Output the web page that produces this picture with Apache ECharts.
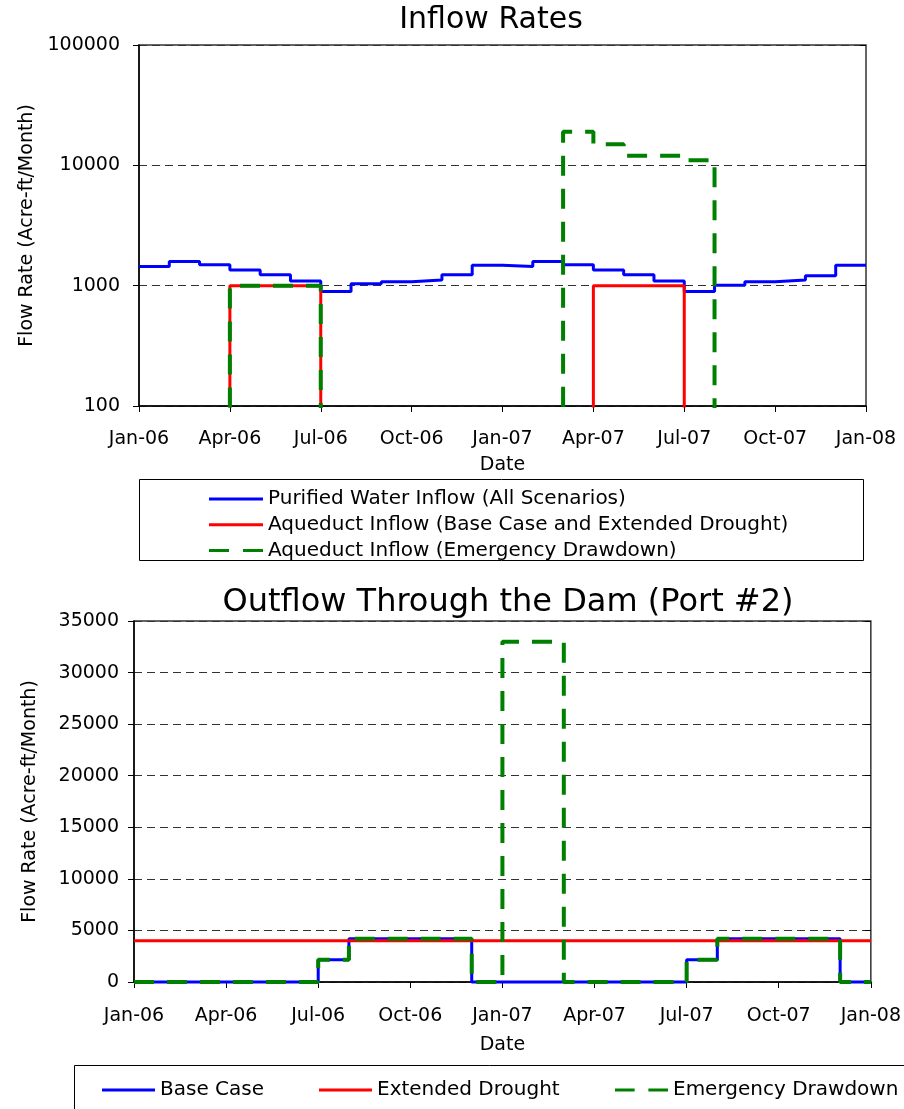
<!DOCTYPE html>
<html>
<head>
<meta charset="utf-8">
<script src="https://cdn.jsdelivr.net/npm/echarts@6/dist/echarts.min.js"></script>
<style>
  html, body { margin: 0; padding: 0; background: #fff; }
  #chart { width: 904px; height: 1109px; }
</style>
</head>
<body>
<div id="chart"></div>
<script>
// Month ticks every quarter, Jan-06 .. Jan-08 (x is months since Jan 2006)
const quarterTickLabels = ['Jan-06', 'Apr-06', 'Jul-06', 'Oct-06', 'Jan-07', 'Apr-07', 'Jul-07', 'Oct-07', 'Jan-08'];

// Inflow rates, acre-ft/month, one value per month Jan-06 .. Dec-07
const purifiedInflow = [1440, 1590, 1490, 1350, 1230, 1095, 895, 1035, 1080, 1115, 1230, 1480,
                        1440, 1590, 1490, 1350, 1230, 1095, 895, 1010, 1080, 1115, 1210, 1480];
const aqueductBaseInflow = [0, 0, 0, 1000, 1000, 1000, 0, 0, 0, 0, 0, 0,
                            0, 0, 0, 1000, 1000, 1000, 0, 0, 0, 0, 0, 0];
const aqueductEmergencyInflow = [0, 0, 0, 1000, 1000, 1000, 0, 0, 0, 0, 0, 0,
                                 0, 0, 19000, 15000, 12000, 12000, 11000, 0, 0, 0, 0, 0];
const inflowLogTicks = [100, 1000, 10000, 100000];

// Outflow through the dam (Port #2), acre-ft/month
const outflowBaseCase = [0, 0, 0, 0, 0, 0, 2150, 4200, 4200, 4200, 4200, 0,
                         0, 0, 0, 0, 0, 0, 2150, 4200, 4200, 4200, 4200, 0];
const outflowExtendedDrought = [4000, 4000, 4000, 4000, 4000, 4000, 4000, 4000, 4000, 4000, 4000, 4000,
                                4000, 4000, 4000, 4000, 4000, 4000, 4000, 4000, 4000, 4000, 4000, 4000];
const outflowEmergency = [0, 0, 0, 0, 0, 0, 2150, 4200, 4200, 4200, 4200, 0,
                          33000, 33000, 0, 0, 0, 0, 2150, 4200, 4200, 4200, 4200, 0];
const outflowTicks = [0, 35000, 5000]; // min, max, interval

const FONT = 'DejaVu Sans';
const BLUE = '#0000ff', RED = '#ff0000', GREEN = '#008000';

// Legend keys: a solid bar and a two-dash bar
const SOLID_KEY = 'path://M0 0H54V3H0Z';
const DASHED_KEY = 'path://M0 0H20V3H0Z M34 0H54V3H34Z';

// Monthly step data: value i holds from month i to month i+1
function monthlySteps(values, floor) {
  const pts = values.map((v, i) => [i, floor != null && v <= 0 ? floor : v]);
  pts.push([values.length, pts[pts.length - 1][1]]);
  return pts;
}
// zero flow has no place on a log scale: send it below the axis so it is clipped
const LOG_FLOOR = 1;

function monthAxis(gridIndex) {
  return {
    type: 'value', gridIndex, min: 0, max: 24, interval: 3,
    name: 'Date', nameLocation: 'middle', nameGap: gridIndex === 0 ? 50 : 54,
    nameTextStyle: { fontFamily: FONT, fontSize: 19, color: '#000' },
    axisLine: { lineStyle: { color: '#000', width: 1.5 } },
    axisTick: { show: true, inside: false, length: 6, lineStyle: { color: '#000' } },
    axisLabel: {
      fontFamily: FONT, fontSize: 19, color: '#000', margin: gridIndex === 0 ? 24 : 25,
      showMinLabel: true, showMaxLabel: true, hideOverlap: false,
      formatter: v => quarterTickLabels[Math.round(v / 3)]
    },
    splitLine: { show: false }
  };
}

const gridLine = { show: true, lineStyle: { color: '#333', width: 1, type: [8, 5] } };
const legendText = { fontFamily: FONT, fontSize: 20, color: '#000', lineHeight: 20 };

function bottomLegend(left, name, icon) {
  return {
    orient: 'horizontal', left, top: 1080, padding: 0, itemWidth: 53, itemHeight: 3,
    textStyle: legendText, data: [{ name, icon }]
  };
}

const option = {
  animation: false,
  backgroundColor: '#fff',
  textStyle: { fontFamily: FONT },
  grid: [
    { left: 139, top: 45, width: 727, height: 361, show: true, borderColor: '#333', borderWidth: 1.5, backgroundColor: 'transparent' },
    { left: 134, top: 621, width: 740, height: 361, show: true, borderColor: '#333', borderWidth: 1.5, backgroundColor: 'transparent' }
  ],
  graphic: [
    { type: 'text', x: 491, y: 20, style: { text: 'Inflow Rates', font: '30px "DejaVu Sans"', fill: '#000', textAlign: 'center', textVerticalAlign: 'middle' } },
    { type: 'text', x: 508, y: 603, style: { text: 'Outflow Through the Dam (Port #2)', font: '32px "DejaVu Sans"', fill: '#000', textAlign: 'center', textVerticalAlign: 'middle' } },
    { type: 'rect', shape: { x: 139.5, y: 479.5, width: 724, height: 81 }, style: { fill: 'none', stroke: '#000', lineWidth: 1 }, z: 0 },
    { type: 'rect', shape: { x: 74.5, y: 1065.5, width: 840, height: 60 }, style: { fill: 'none', stroke: '#000', lineWidth: 1 }, z: 0 }
  ],
  legend: [
    {
      orient: 'vertical', left: 209, top: 489, padding: 0, itemWidth: 54, itemHeight: 3, itemGap: 5.7,
      textStyle: legendText,
      data: [
        { name: 'Purified Water Inflow (All Scenarios)', icon: SOLID_KEY },
        { name: 'Aqueduct Inflow (Base Case and Extended Drought)', icon: SOLID_KEY },
        { name: 'Aqueduct Inflow (Emergency Drawdown)', icon: DASHED_KEY }
      ]
    },
    bottomLegend(102, 'Base Case', SOLID_KEY),
    bottomLegend(319, 'Extended Drought', SOLID_KEY),
    bottomLegend(615, 'Emergency Drawdown', DASHED_KEY)
  ],
  xAxis: [monthAxis(0), monthAxis(1)],
  yAxis: [
    {
      type: 'log', logBase: 10, gridIndex: 0, min: inflowLogTicks[0], max: inflowLogTicks[inflowLogTicks.length - 1],
      name: 'Flow Rate (Acre-ft/Month)', nameLocation: 'middle', nameGap: 102,
      nameTextStyle: { fontFamily: FONT, fontSize: 19, color: '#000' },
      axisLine: { show: true, lineStyle: { color: '#000', width: 1.5 } },
      axisTick: { show: true, length: 6, lineStyle: { color: '#000' } },
      axisLabel: { fontFamily: FONT, fontSize: 19, color: '#000', margin: 19, formatter: v => String(Math.round(v)) },
      splitLine: gridLine
    },
    {
      type: 'log', logBase: 10, gridIndex: 0, min: inflowLogTicks[0], max: inflowLogTicks[inflowLogTicks.length - 1],
      axisLine: { show: false }, axisLabel: { show: false }, splitLine: { show: false },
      axisTick: { show: true, inside: true, length: 6, lineStyle: { color: '#000' } }
    },
    {
      type: 'value', gridIndex: 1, min: outflowTicks[0], max: outflowTicks[1], interval: outflowTicks[2],
      name: 'Flow Rate (Acre-ft/Month)', nameLocation: 'middle', nameGap: 94,
      nameTextStyle: { fontFamily: FONT, fontSize: 19, color: '#000' },
      axisLine: { show: true, lineStyle: { color: '#000', width: 1.5 } },
      axisTick: { show: true, length: 6, lineStyle: { color: '#000' } },
      axisLabel: { fontFamily: FONT, fontSize: 19, color: '#000', margin: 15, formatter: v => String(v) },
      splitLine: gridLine
    },
    {
      type: 'value', gridIndex: 1, min: outflowTicks[0], max: outflowTicks[1], interval: outflowTicks[2],
      axisLine: { show: false }, axisLabel: { show: false }, splitLine: { show: false },
      axisTick: { show: true, inside: true, length: 6, lineStyle: { color: '#000' } }
    }
  ],
  series: [
    {
      name: 'Purified Water Inflow (All Scenarios)', type: 'line', step: 'end', xAxisIndex: 0, yAxisIndex: 0,
      data: monthlySteps(purifiedInflow), symbol: 'none', clip: true,
      lineStyle: { color: BLUE, width: 3 }, itemStyle: { color: BLUE }
    },
    {
      name: 'Aqueduct Inflow (Base Case and Extended Drought)', type: 'line', step: 'end', xAxisIndex: 0, yAxisIndex: 0,
      data: monthlySteps(aqueductBaseInflow, LOG_FLOOR), symbol: 'none', clip: true,
      lineStyle: { color: RED, width: 3 }, itemStyle: { color: RED }
    },
    {
      name: 'Aqueduct Inflow (Emergency Drawdown)', type: 'line', step: 'end', xAxisIndex: 0, yAxisIndex: 0,
      data: monthlySteps(aqueductEmergencyInflow, LOG_FLOOR), symbol: 'none', clip: true,
      lineStyle: { color: GREEN, width: 4, type: [20, 13] }, itemStyle: { color: GREEN }
    },
    {
      name: 'Base Case', type: 'line', step: 'end', xAxisIndex: 1, yAxisIndex: 2,
      data: monthlySteps(outflowBaseCase), symbol: 'none', clip: false,
      lineStyle: { color: BLUE, width: 3 }, itemStyle: { color: BLUE }
    },
    {
      name: 'Extended Drought', type: 'line', step: 'end', xAxisIndex: 1, yAxisIndex: 2,
      data: monthlySteps(outflowExtendedDrought), symbol: 'none', clip: false,
      lineStyle: { color: RED, width: 3 }, itemStyle: { color: RED }
    },
    {
      name: 'Emergency Drawdown', type: 'line', step: 'end', xAxisIndex: 1, yAxisIndex: 2,
      data: monthlySteps(outflowEmergency), symbol: 'none', clip: false,
      lineStyle: { color: GREEN, width: 4, type: [20, 13] }, itemStyle: { color: GREEN }
    }
  ]
};

const chart = echarts.init(document.getElementById('chart'), null, { renderer: 'canvas' });
chart.setOption(option);
</script>
</body>
</html>
